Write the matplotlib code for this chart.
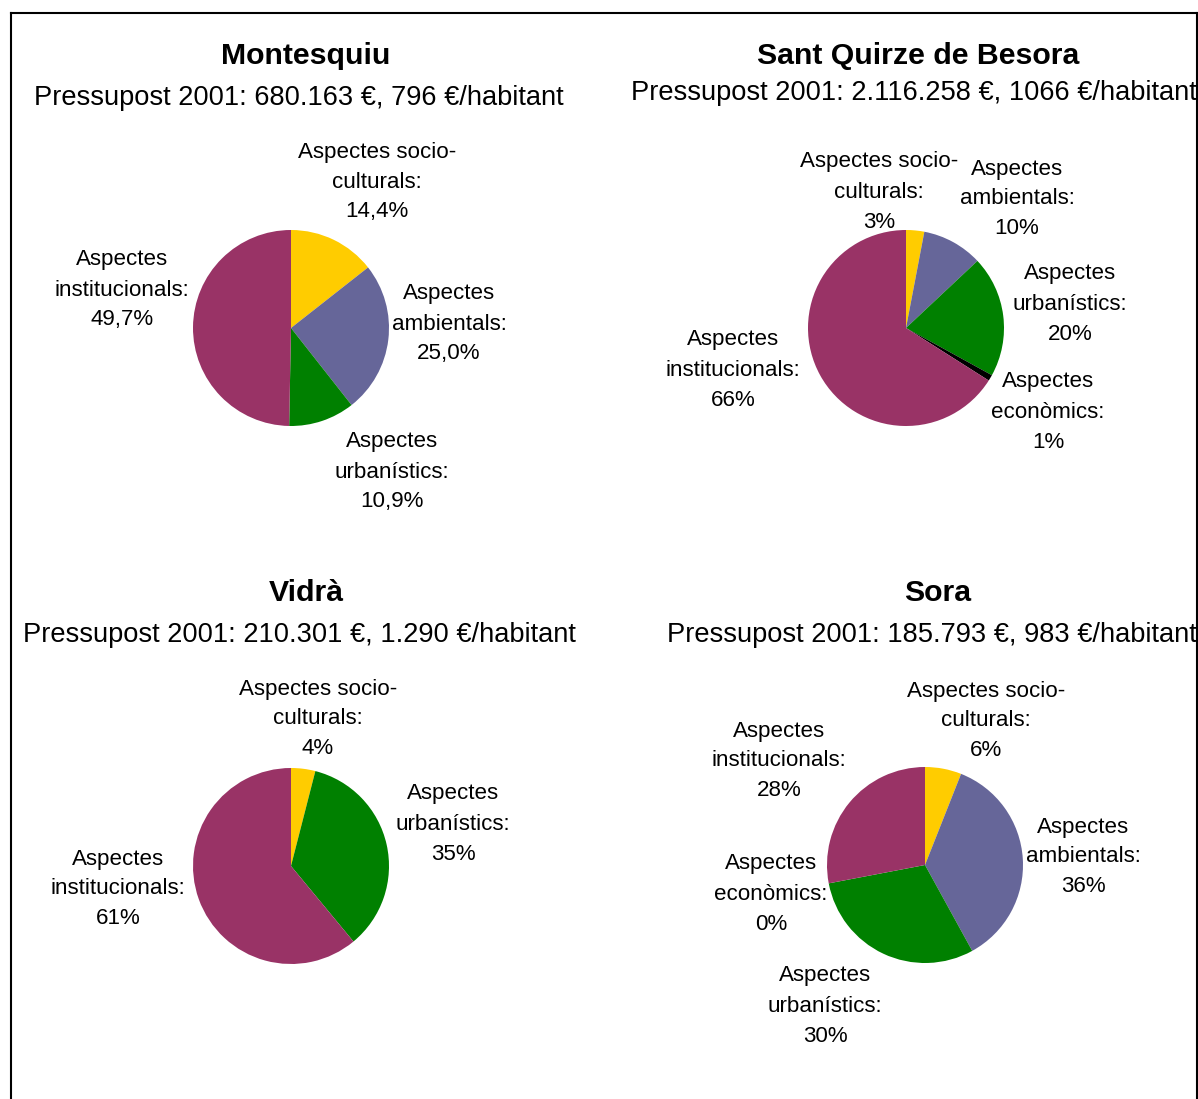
import matplotlib
matplotlib.use("Agg")
import matplotlib.pyplot as plt
from matplotlib.lines import Line2D

plt.rcParams['font.family'] = ['Liberation Sans', 'DejaVu Sans']

W, H = 1198, 1099

# ---------------- data ----------------
categories = ["socio-culturals", "ambientals", "urbanístics", "econòmics", "institucionals"]
colors = ["#FFCC00", "#666699", "#008000", "#000000", "#993366"]

towns = ["Montesquiu", "Sant Quirze de Besora", "Vidrà", "Sora"]
subtitles = [
    "Pressupost 2001: 680.163 €, 796 €/habitant",
    "Pressupost 2001: 2.116.258 €, 1066 €/habitant",
    "Pressupost 2001: 210.301 €, 1.290 €/habitant",
    "Pressupost 2001: 185.793 €, 983 €/habitant",
]
montesquiu = [14.4, 25.0, 10.9, 0.0, 49.7]
sant_quirze = [3, 10, 20, 1, 66]
vidra = [4, 0, 35, 0, 61]
sora = [6, 36, 30, 0, 28]
values = [montesquiu, sant_quirze, vidra, sora]
decimals = [1, 0, 0, 0]
# which categories get a label in each chart
shown = [
    [0, 1, 2, 4],
    [0, 1, 2, 3, 4],
    [0, 2, 4],
    [0, 1, 2, 3, 4],
]

# ---------------- layout (pixels) ----------------
pie_centers = [(291, 328), (906, 328), (291, 866), (925, 865)]
pie_radius = 98
title_pos = [(306, 56), (918, 56), (306, 593), (938, 593)]
subtitle_pos = [(299, 98), (914, 93), (299, 635), (932, 635)]
# centre of the middle line of each label, keyed by category index
label_pos = [
    {0: (377, 182), 1: (449, 324), 2: (392, 472), 4: (122, 290)},
    {0: (879, 192), 1: (1017, 199), 2: (1070, 304), 3: (1048, 412), 4: (733, 370)},
    {0: (318, 719), 2: (453, 824), 4: (118, 889)},
    {0: (986, 721), 1: (1083, 857), 2: (825, 1006), 3: (771, 894), 4: (779, 761)},
]
line_gap = 30

label_lines = {
    0: ["Aspectes socio-", "culturals:"],
    1: ["Aspectes", "ambientals:"],
    2: ["Aspectes", "urbanístics:"],
    3: ["Aspectes", "econòmics:"],
    4: ["Aspectes", "institucionals:"],
}

fig = plt.figure(figsize=(W / 100, H / 100), dpi=100)
fig.patch.set_facecolor("white")


def fx(x):
    return x / W


def fy(y):
    return 1 - y / H


for i, town in enumerate(towns):
    cx, cy = pie_centers[i]
    r = pie_radius
    ax = fig.add_axes([fx(cx - r), fy(cy + r), 2 * r / W, 2 * r / H])
    ax.pie(values[i], colors=colors, startangle=90, counterclock=False,
           radius=1.0, wedgeprops=dict(linewidth=0))
    ax.set_xlim(-1, 1)
    ax.set_ylim(-1, 1)
    ax.set_aspect("auto")
    ax.axis("off")

    tx, ty = title_pos[i]
    fig.text(fx(tx), fy(ty), town, ha="center", va="center",
             fontsize=21.8, fontweight="bold")
    sx, sy = subtitle_pos[i]
    fig.text(fx(sx), fy(sy), subtitles[i], ha="center", va="center",
             fontsize=19.6)

    for c in shown[i]:
        v = values[i][c]
        if decimals[i] == 1:
            pct = f"{v:.1f}%".replace(".", ",")
        else:
            pct = f"{v:.0f}%"
        lines = label_lines[c] + [pct]
        lx, ly = label_pos[i][c]
        for k, t in enumerate(lines):
            fig.text(fx(lx), fy(ly + (k - 1) * line_gap), t, ha="center",
                     va="center", fontsize=16.1)

# frame around the whole graphic
border = dict(color="black", linewidth=1.5, transform=fig.transFigure)
fig.add_artist(Line2D([fx(11), fx(11)], [fy(13), fy(H + 5)], **border))
fig.add_artist(Line2D([fx(11), fx(1197)], [fy(13), fy(13)], **border))
fig.add_artist(Line2D([fx(1197), fx(1197)], [fy(13), fy(H + 5)], **border))

fig.savefig("out.png", dpi=100, facecolor="white")
